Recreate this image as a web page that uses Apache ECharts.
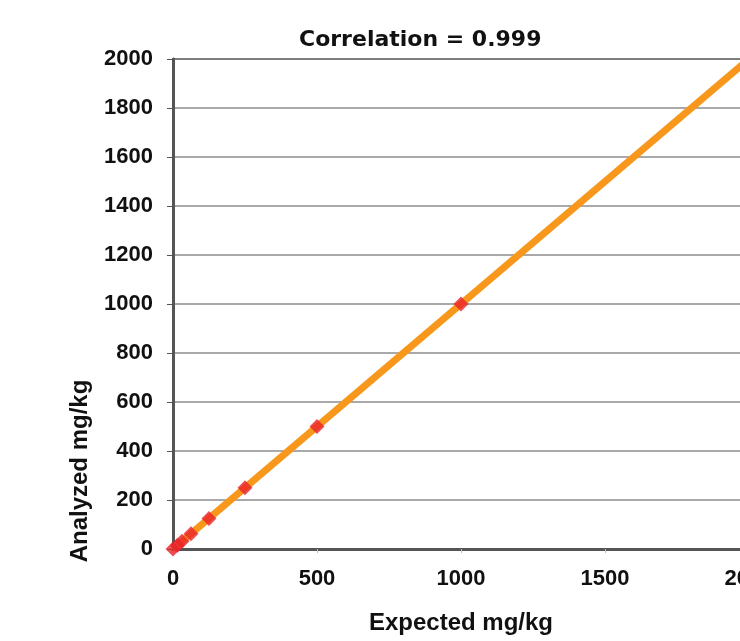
<!DOCTYPE html>
<html>
<head>
<meta charset="utf-8">
<script src="https://cdn.jsdelivr.net/npm/echarts@6/dist/echarts.min.js"></script>
<style>
  html, body { margin: 0; padding: 0; background: #fff; }
  #main { width: 740px; height: 641px; }
</style>
</head>
<body>
<div id="main"></div>
<script>
// measured points (expected vs analyzed)
var expected = [0, 15.6, 31.3, 62.5, 125, 250, 500, 1000];
var analyzed = [0, 15.6, 31.3, 62.5, 125, 250, 500, 1000];
// fit line ends
var fitX = [0, 2000];
var fitY = [0, 2000];

var chart = echarts.init(document.getElementById('main'));

var labelFont = { fontFamily: 'Liberation Sans, Arial, sans-serif', fontWeight: 'bold', color: '#111' };
function plain(v) { return String(v); }

var option = {
  animation: false,
  title: {
    text: 'Correlation = 0.999',
    left: 294,
    top: 24,
    textStyle: { fontFamily: 'DejaVu Sans', fontWeight: 'bold', fontSize: 22, color: '#111' }
  },
  grid: {
    left: 173, right: -9, top: 59, bottom: 92,
    outerBoundsMode: 'none',
    containLabel: false,
    show: true, borderColor: '#555', borderWidth: 2
  },
  xAxis: {
    type: 'value', min: 0, max: 2000, interval: 500,
    name: 'Expected mg/kg', nameLocation: 'middle', nameGap: 62,
    nameTextStyle: Object.assign({ fontSize: 24 }, labelFont),
    axisLine: { lineStyle: { color: '#555', width: 3 } },
    axisTick: { show: true, length: 4, lineStyle: { color: '#bbb' } },
    axisLabel: Object.assign({ fontSize: 22, margin: 19, formatter: plain }, labelFont),
    splitLine: { show: false }
  },
  yAxis: {
    type: 'value', min: 0, max: 2000, interval: 200,
    axisLine: { show: true, lineStyle: { color: '#555', width: 3 } },
    axisTick: { show: true, length: 6, lineStyle: { color: '#555' } },
    axisLabel: Object.assign({ fontSize: 22, margin: 20, formatter: plain }, labelFont),
    splitLine: { lineStyle: { color: '#8c8c8c', width: 1.5 } }
  },
  graphic: [{
    type: 'text',
    x: 80, y: 471,
    rotation: Math.PI / 2,
    style: {
      text: 'Analyzed mg/kg', fontSize: 24, fill: '#111',
      align: 'center', verticalAlign: 'middle',
      fontFamily: 'Liberation Sans, Arial, sans-serif', fontWeight: 'bold'
    }
  }],
  series: [{
    type: 'line',
    data: fitX.map(function (x, i) { return [x, fitY[i]]; }),
    showSymbol: false,
    lineStyle: { color: '#F7981D', width: 7 },
    z: 2
  }, {
    type: 'scatter',
    data: expected.map(function (x, i) { return [x, analyzed[i]]; }),
    symbol: 'diamond',
    symbolSize: 15,
    itemStyle: { color: '#E8232A' },
    clip: false,
    z: 3
  }]
};
chart.setOption(option);
</script>
</body>
</html>
